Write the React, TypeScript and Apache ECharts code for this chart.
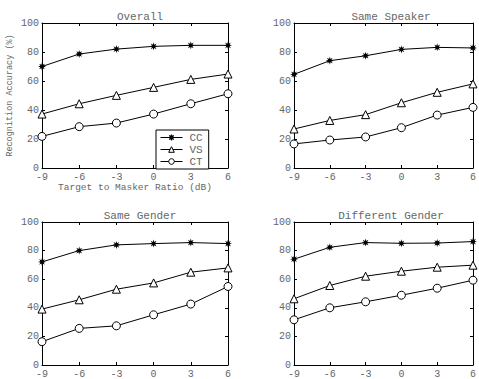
import React, { useEffect, useRef } from "react";
import * as echarts from "echarts";

const tmr = [-9, -6, -3, 0, 3, 6];
const panelTitles = ["Overall", "Same Speaker", "Same Gender", "Different Gender"];
const seriesNames = ["CC", "VS", "CT"];
const yTicks = [0, 20, 40, 60, 80, 100];

const overallCC = [70, 78.6, 82, 83.9, 84.6, 84.6];
const overallVS = [37.2, 44.3, 50.1, 55.6, 61.1, 64.8];
const overallCT = [21.8, 28.5, 31, 37.2, 44.3, 51.2];

const speakerCC = [64.6, 74, 77.4, 81.8, 83.2, 82.8];
const speakerVS = [26.9, 32.8, 36.8, 45, 52.2, 58];
const speakerCT = [16.6, 19.3, 21.4, 27.8, 36.5, 41.8];

const genderCC = [72.1, 80, 84, 84.9, 85.6, 84.9];
const genderVS = [39.1, 45.6, 53, 57.4, 64.9, 67.9];
const genderCT = [16.3, 25.6, 27.4, 35.1, 42.6, 54.9];

const diffCC = [74, 82.3, 85.6, 85.1, 85.3, 86.3];
const diffVS = [46.3, 55.6, 62.1, 65.6, 68.4, 69.8];
const diffCT = [31.6, 40, 44.2, 48.8, 53.7, 59.3];

const panelData = [
  [overallCC, overallVS, overallCT],
  [speakerCC, speakerVS, speakerCT],
  [genderCC, genderVS, genderCT],
  [diffCC, diffVS, diffCT],
];

const FONT = "Liberation Mono";
const TXT = "#666";

function starPath(): string {
  const pts: string[] = [];
  for (let k = 0; k < 16; k++) {
    const a = (-90 + k * 22.5) * Math.PI / 180;
    const r = k % 2 === 0 ? 10 : 4.5;
    pts.push(`${(10 + r * Math.cos(a)).toFixed(2)} ${(10 + r * Math.sin(a)).toFixed(2)}`);
  }
  return "path://M" + pts.join(" L") + " Z";
}

export default function App() {
  const ref = useRef<HTMLDivElement>(null);
  useEffect(() => {
    const chart = echarts.init(ref.current!, null, { renderer: "svg" });
    const grids = [
      { left: 42, top: 23, width: 186, height: 145 },
      { left: 294, top: 23, width: 184, height: 145 },
      { left: 42, top: 222, width: 186, height: 143 },
      { left: 294, top: 222, width: 184, height: 143 },
    ];
    const titleTops = [6, 6, 205, 205];
    const symbols = [starPath(), "triangle", "circle"];
    const sizes = [8, 8, 8];

    const lineAx = { show: true, onZero: false, lineStyle: { color: "#000", width: 1 } };
    const tickAx = { show: true, inside: true, length: 3, lineStyle: { color: "#000" } };

    const xAxes: any[] = [];
    const yAxes: any[] = [];
    grids.forEach((g, i) => {
      xAxes.push({
        type: "value", gridIndex: i, min: -9, max: 6, interval: 3, position: "bottom",
        axisLine: lineAx, axisTick: tickAx,
        axisLabel: { color: TXT, fontFamily: FONT, fontSize: 10, margin: 4, lineHeight: 10 },
        splitLine: { show: false },
        name: i === 0 ? "Target to Masker Ratio (dB)" : "",
        nameLocation: "middle", nameGap: 14,
        nameTextStyle: { color: TXT, fontFamily: FONT, fontSize: 9.5 },
      });
      xAxes.push({
        type: "value", gridIndex: i, min: -9, max: 6, interval: 3, position: "top",
        axisLine: lineAx, axisTick: tickAx,
        axisLabel: { show: false }, splitLine: { show: false },
      });
      yAxes.push({
        type: "value", gridIndex: i, min: 0, max: 100, interval: 20, position: "left",
        axisLine: lineAx, axisTick: tickAx,
        axisLabel: {
          color: TXT, fontFamily: FONT, fontSize: 10, margin: 3, lineHeight: 10,
          formatter: (v: number) => (yTicks.includes(v) ? String(v) : ""),
        },
        splitLine: { show: false },
        name: i === 0 ? "Recognition Accuracy (%)" : "",
        nameLocation: "middle", nameGap: 28,
        nameTextStyle: { color: TXT, fontFamily: FONT, fontSize: 8.5 },
      });
      yAxes.push({
        type: "value", gridIndex: i, min: 0, max: 100, interval: 20, position: "right",
        axisLine: lineAx, axisTick: tickAx,
        axisLabel: { show: false }, splitLine: { show: false },
      });
    });

    const series: any[] = [];
    panelData.forEach((pd, i) => {
      pd.forEach((vals, s) => {
        series.push({
          type: "line",
          name: seriesNames[s],
          xAxisIndex: i * 2,
          yAxisIndex: i * 2,
          data: tmr.map((x, k) => [x, vals[k]]),
          symbol: symbols[s],
          symbolSize: sizes[s],
          showAllSymbol: true,
          lineStyle: { color: "#000", width: 1, type: "solid" },
          itemStyle: { color: s === 0 ? "#000" : "#fff", borderColor: "#000", borderWidth: s === 0 ? 0 : 1 },
          emphasis: { disabled: true },
          z: 3,
        });
      });
    });

    chart.setOption({
      animation: false,
      backgroundColor: "#fff",
      title: panelTitles.map((t, i) => ({
        text: t,
        left: grids[i].left + grids[i].width / 2,
        top: titleTops[i],
        textAlign: "center",
        textStyle: { color: TXT, fontFamily: FONT, fontSize: 11, fontWeight: "normal" },
      })),
      grid: grids.map((g) => ({ ...g, containLabel: false, show: false })),
      xAxis: xAxes,
      yAxis: yAxes,
      legend: {
        data: seriesNames,
        orient: "vertical",
        left: 156,
        top: 130,
        itemWidth: 22,
        itemHeight: 7,
        itemGap: 1,
        padding: [2, 6, 2, 4],
        borderColor: "#000",
        borderWidth: 1,
        borderRadius: 0,
        backgroundColor: "#fff",
        selectedMode: false,
        lineStyle: { width: 1 },
        itemStyle: { borderWidth: 1 },
        textStyle: { color: TXT, fontFamily: FONT, fontSize: 11, padding: [0, 0, 0, 2] },
        z: 10,
      },
      series,
    });
    return () => chart.dispose();
  }, []);
  return <div ref={ref} style={{ width: 479, height: 379, position: "absolute", left: 0, top: 0 }} />;
}
